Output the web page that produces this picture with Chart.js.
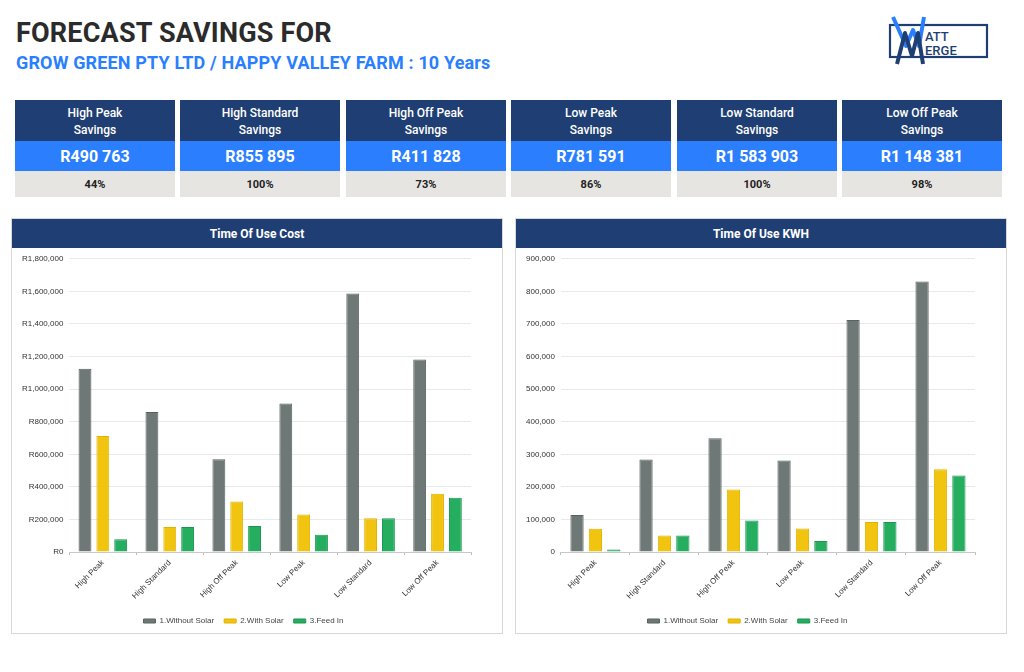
<!DOCTYPE html>
<html>
<head>
<meta charset="utf-8">
<script src="https://cdn.jsdelivr.net/npm/chart.js@4.4.1/dist/chart.umd.min.js"></script>
<style>
  body { margin:0; width:1024px; height:672px; background:#fff; font-family:Roboto, "Noto Sans", sans-serif; position:relative; overflow:hidden; }
  .title { position:absolute; left:16px; top:17px; font-size:27px; font-weight:bold; color:#2b2b2b; letter-spacing:0.2px; }
  .sub { position:absolute; left:16px; top:52px; font-size:18px; font-weight:bold; color:#2a7fff; letter-spacing:0.15px; }
  .logo { position:absolute; left:870px; top:10px; }
  .card { position:absolute; top:100px; width:160px; height:97px; }
  .card .h { background:#1f3f74; color:#fff; height:41px; text-align:center; font-size:12px; font-weight:500; line-height:17px; padding-top:5px; box-sizing:border-box; }
  .card .v { background:#2b7fff; color:#fff; height:30px; text-align:center; font-size:16px; font-weight:bold; line-height:32px; }
  .card .p { background:#e6e5e2; color:#222; height:26px; text-align:center; font-size:11px; font-weight:bold; line-height:27px; }
  .panel { position:absolute; top:218px; height:416px; border:1px solid #d8d8d8; box-sizing:border-box; background:#fff; }
  .panel .ph { background:#1f3f74; color:#fff; height:29px; text-align:center; font-size:12px; font-weight:bold; line-height:30px; }
  .panel .cv { position:absolute; left:0; top:29px; right:0; bottom:-2px; }
</style>
</head>
<body>
<div class="title">FORECAST SAVINGS FOR</div>
<div class="sub">GROW GREEN PTY LTD / HAPPY VALLEY FARM : 10 Years</div>
<svg class="logo" width="120" height="62" viewBox="870 10 120 62">
  <rect x="890" y="25" width="97" height="32" fill="none" stroke="#1f3f74" stroke-width="2.2"/>
  <text x="925" y="41" font-family="Roboto, sans-serif" font-size="13" font-weight="500" fill="#1f3f74">ATT</text>
  <text x="925" y="55" font-family="Roboto, sans-serif" font-size="13" font-weight="500" fill="#1f3f74">ERGE</text>
  <polyline points="893,17 906,46 913,30 919,46 924,17" fill="none" stroke="#2a7fff" stroke-width="4" stroke-linejoin="round"/>
  <polyline points="897,64 905,33 912,56 918,33 923,64" fill="none" stroke="#1f3f74" stroke-width="4" stroke-linejoin="round"/>
</svg>

<div id="cards"></div>

<div class="panel" style="left:11px; width:492px;">
  <div class="ph">Time Of Use Cost</div>
  <div class="cv"><canvas id="costChart"></canvas></div>
</div>
<div class="panel" style="left:515px; width:492px;">
  <div class="ph">Time Of Use KWH</div>
  <div class="cv"><canvas id="kwhChart"></canvas></div>
</div>

<script>
// summary cards
var cardTitles = ['High Peak', 'High Standard', 'High Off Peak', 'Low Peak', 'Low Standard', 'Low Off Peak'];
var cardSavings = ['R490 763', 'R855 895', 'R411 828', 'R781 591', 'R1 583 903', 'R1 148 381'];
var cardPercents = ['44%', '100%', '73%', '86%', '100%', '98%'];

// chart data
var categories = ['High Peak', 'High Standard', 'High Off Peak', 'Low Peak', 'Low Standard', 'Low Off Peak'];
var seriesNames = ['1.Without Solar', '2.With Solar', '3.Feed In'];
var costWithout = [1125000, 859000, 569000, 912000, 1587000, 1182000];
var costWith = [712000, 153000, 311000, 231000, 207000, 358000];
var costFeedIn = [78000, 153000, 160000, 106000, 207000, 333000];
var kwhWithout = [113500, 284000, 349000, 281000, 712000, 830000];
var kwhWith = [71600, 51000, 192000, 72000, 92000, 254000];
var kwhFeedIn = [8000, 51000, 97000, 34000, 92000, 235000];

var cardLefts = [15, 180, 346, 511, 677, 842];
var cardsEl = document.getElementById('cards');
for (var i = 0; i < cardTitles.length; i++) {
  var c = document.createElement('div');
  c.className = 'card';
  c.style.left = cardLefts[i] + 'px';
  c.innerHTML = '<div class="h">' + cardTitles[i] + '<br>Savings</div>' +
    '<div class="v">' + cardSavings[i] + '</div>' +
    '<div class="p">' + cardPercents[i] + '</div>';
  cardsEl.appendChild(c);
}

var fills = ['#6e7876', '#f1c40f', '#25ad60'];
var borders = ['#59625f', '#e2b200', '#1b9650'];

function makeSets(a, b, c) {
  return [a, b, c].map(function (vals, i) {
    return {
      label: seriesNames[i],
      data: vals,
      backgroundColor: fills[i],
      borderColor: borders[i],
      borderWidth: 1,
      categoryPercentage: 0.8,
      barPercentage: 0.72
    };
  });
}

function buildChart(id, sets, maxVal, step, prefix) {
  new Chart(document.getElementById(id), {
    type: 'bar',
    data: { labels: categories, datasets: sets },
    options: {
      responsive: true,
      maintainAspectRatio: false,
      animation: false,
      layout: { padding: { left: 4, right: 31, top: 6, bottom: 0 } },
      plugins: {
        legend: {
          position: 'bottom',
          labels: {
            boxWidth: 12, boxHeight: 4, padding: 10,
            color: '#444', font: { family: 'Liberation Sans, Arial', size: 8 }
          }
        },
        tooltip: { enabled: false }
      },
      scales: {
        x: {
          grid: { drawOnChartArea: false, drawTicks: true, tickLength: 3, color: '#bbb' },
          border: { color: '#c8c8c8' },
          ticks: {
            color: '#333', minRotation: 45, maxRotation: 45, padding: 3,
            font: { family: 'Liberation Sans, Arial', size: 8 }
          },
          afterFit: function (scale) { scale.height += 3; }
        },
        y: {
          min: 0, max: maxVal,
          border: { display: false },
          grid: { color: '#e9e9e9', drawTicks: false },
          ticks: {
            stepSize: step, padding: 6, color: '#333',
            font: { family: 'Liberation Sans, Arial', size: 8 },
            callback: function (v) { return prefix + Number(v).toLocaleString('en-US'); }
          }
        }
      }
    }
  });
}

buildChart('costChart', makeSets(costWithout, costWith, costFeedIn), 1800000, 200000, 'R');
buildChart('kwhChart', makeSets(kwhWithout, kwhWith, kwhFeedIn), 900000, 100000, '');
</script>
</body>
</html>
